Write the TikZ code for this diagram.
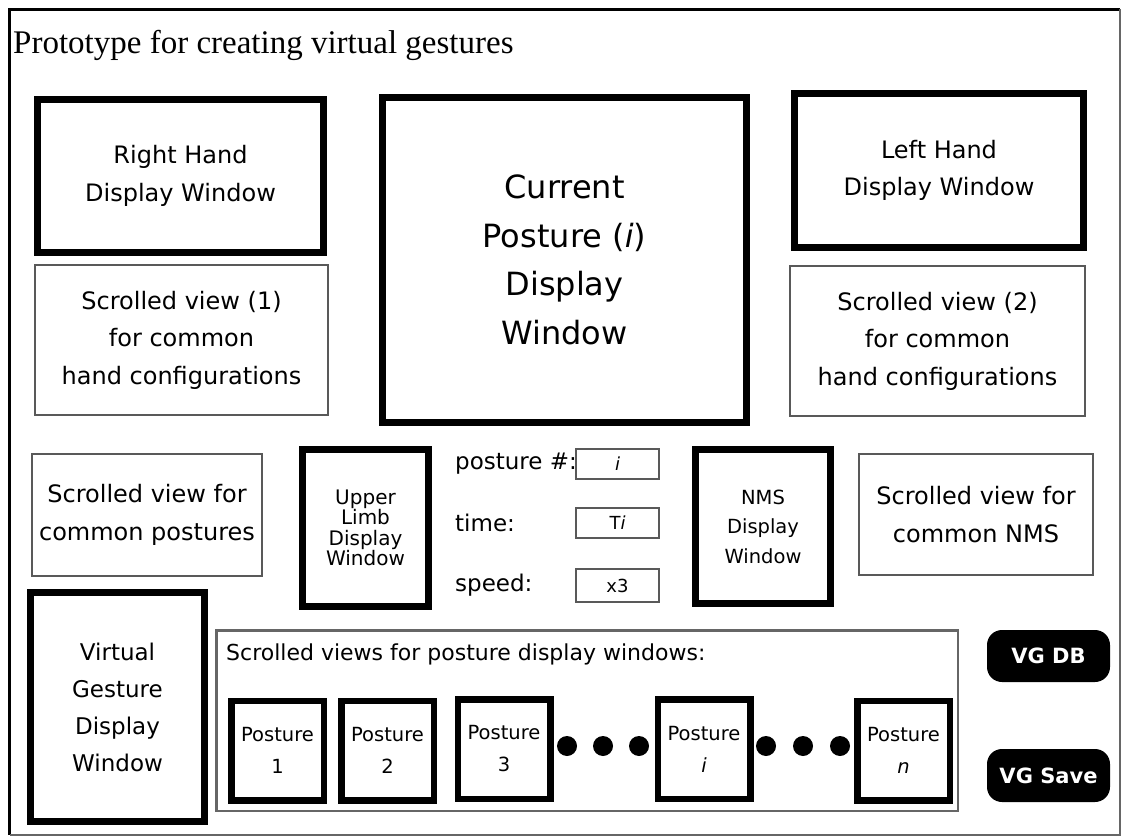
\documentclass[tikz,border=0pt]{standalone}
\usepackage{fontspec}
\setmainfont{DejaVu Sans}
\newfontfamily\titlefont{Liberation Serif}
\begin{document}
\begin{tikzpicture}[x=1pt,y=-1pt,
  thickbox/.style={draw=black, line width=7pt, inner sep=0pt, outer sep=0pt, align=center},
  thinbox/.style={draw=black!65, line width=2pt, inner sep=0pt, outer sep=0pt, align=center},
  normtext/.style={font=\fontsize{24}{37.5}\selectfont},
  posturebox/.style={draw=black, line width=6.5pt, inner sep=0pt, outer sep=0pt, minimum width=92.5pt, minimum height=99.5pt, align=center, font=\fontsize{19.5}{32}\selectfont},
  blackdot/.style={circle, fill=black, inner sep=0pt, minimum size=20pt},
  valbox/.style={thinbox, minimum width=83pt, minimum height=30pt, font=\fontsize{18}{18}\selectfont},
  lbl/.style={anchor=west, inner sep=0pt, font=\fontsize{23}{23}\selectfont},
  vgbutton/.style={fill=black, rounded corners=15pt, text=white, inner sep=0pt, minimum width=123pt, font=\bfseries\fontsize{21}{21}\selectfont}
]
\useasboundingbox (0,0) rectangle (1122,837);
% outer frame
\draw[line width=3pt] (9.5,835) -- (9.5,9.5) -- (1120,9.5);
\draw[black!60, line width=2pt] (1120,9.5) -- (1120,835) -- (9.5,835);
% title
\node[anchor=base west, inner sep=0pt, font=\titlefont\fontsize{33}{33}\selectfont] (title) at (13,54) {Prototype for creating virtual gestures};
% top row
\node[thickbox, normtext, minimum width=286pt, minimum height=153pt] (rh) at (180.5,176) {Right Hand\\Display Window};
\node[thinbox, normtext, minimum width=293pt, minimum height=150pt] (sv1) at (181.5,340) {Scrolled view (1)\\for common\\hand configurations};
\node[thickbox, font=\fontsize{32}{48.5}\selectfont, minimum width=364pt, minimum height=325pt] (cur) at (564.5,260) {Current\\Posture (\textit{i})\\Display\\Window};
\node[thickbox, normtext, minimum width=289pt, minimum height=154pt] (lh) at (939,170.5) {Left Hand\\Display Window};
\node[thinbox, normtext, minimum width=295pt, minimum height=150pt] (sv2) at (937.5,341) {Scrolled view (2)\\for common\\hand configurations};
% middle row
\node[thinbox, normtext, minimum width=230pt, minimum height=122pt] (svp) at (147,515) {Scrolled view for\\common postures};
\node[thickbox, font=\fontsize{20}{20.5}\selectfont, minimum width=126pt, minimum height=157pt] (ul) at (365.5,528) {Upper\\Limb\\Display\\Window};
\node[lbl] (lpn) at (455,464) {posture \#:};
\node[lbl] (ltm) at (455,523) {time:};
\node[lbl] (lsp) at (455,585) {speed:};
\node[valbox] (vpn) at (617.5,464) {\textit{i}};
\node[valbox] (vtm) at (617.5,523) {T\textit{i}};
\node[valbox, minimum height=33pt] (vsp) at (617.5,585.5) {x3};
\node[thickbox, font=\fontsize{19.5}{29.5}\selectfont, minimum width=135pt, minimum height=154pt] (nms) at (763,526.5) {NMS\\Display\\Window};
\node[thinbox, normtext, minimum width=234pt, minimum height=121pt] (svn) at (976,514.5) {Scrolled view for\\common NMS};
% bottom row
\node[thickbox, font=\fontsize{23}{37}\selectfont, minimum width=174pt, minimum height=229pt] (vg) at (117.5,707) {Virtual\\Gesture\\Display\\Window};
\node[draw=black!60, line width=2.5pt, inner sep=0pt, outer sep=0pt, minimum width=741.5pt, minimum height=180.5pt] (panel) at (587,720.5) {};
\node[anchor=base west, inner sep=0pt, font=\fontsize{22}{22}\selectfont] (ptitle) at (226,660) {Scrolled views for posture display windows:};
\node[posturebox] (p1) at (277.5,750.5) {Posture\\1};
\node[posturebox] (p2) at (387.5,750.5) {Posture\\2};
\node[posturebox] (p3) at (504,749) {Posture\\3};
\node[blackdot] (d1) at (567,746) {};
\node[blackdot] (d2) at (603,746) {};
\node[blackdot] (d3) at (639,746) {};
\node[posturebox] (pi) at (704,749) {Posture\\\textit{i}};
\node[blackdot] (d4) at (766,746) {};
\node[blackdot] (d5) at (803,746) {};
\node[blackdot] (d6) at (840,746) {};
\node[posturebox] (pn) at (903.5,750.5) {Posture\\\textit{n}};
\node[vgbutton, minimum height=52pt] (vgdb) at (1048.5,656) {VG DB};
\node[vgbutton, minimum height=53pt] (vgsave) at (1048.5,775.5) {VG Save};
\end{tikzpicture}
\end{document}
